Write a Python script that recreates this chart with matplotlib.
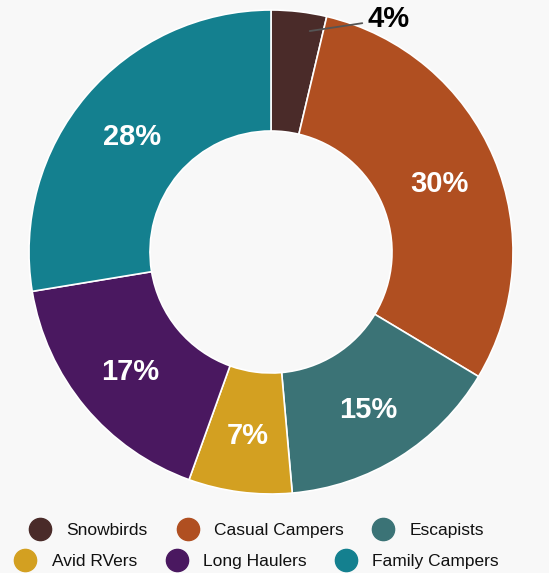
import numpy as np
import matplotlib

matplotlib.use("Agg")
import matplotlib.pyplot as plt
from matplotlib.lines import Line2D

plt.rcParams["font.family"] = ["Liberation Sans", "DejaVu Sans"]

segments = ["Snowbirds", "Casual Campers", "Escapists",
            "Avid RVers", "Long Haulers", "Family Campers"]
shares = [3.7, 29.9, 15.0, 6.9, 16.9, 27.6]
labels = ["4%", "30%", "15%", "7%", "17%", "28%"]
colors = ["#4a2b29", "#b04f21", "#3b7376", "#d3a021", "#4a1860", "#14808f"]

bg = "#f8f8f8"
fig = plt.figure(figsize=(5.49, 5.73), dpi=100, facecolor=bg)
W, H = 549, 573
cx, cy, r = 271, 252, 242
ax = fig.add_axes([(cx - r) / W, 1 - (cy + r) / H, 2 * r / W, 2 * r / H])
ax.set_facecolor(bg)

wedges, _ = ax.pie(shares, colors=colors, startangle=90, counterclock=False,
                   radius=1.0, wedgeprops=dict(width=0.5, edgecolor="white", linewidth=1.2))
ax.set_xlim(-1, 1)
ax.set_ylim(-1, 1)
ax.set_aspect("equal")
ax.axis("off")

for w, lab in zip(wedges, labels):
    mid = np.deg2rad((w.theta1 + w.theta2) / 2)
    if lab == "4%":
        # small slice: label outside with a leader line
        ax.annotate(lab, xy=(0.16, 0.913), xytext=(0.4, 0.962),
                    fontsize=21, fontweight="bold", color="black",
                    ha="left", va="center", annotation_clip=False,
                    arrowprops=dict(arrowstyle="-", color="#555555", lw=1.3,
                                    shrinkA=2, shrinkB=0))
    else:
        ax.text(0.755 * np.cos(mid), 0.755 * np.sin(mid) - 0.012, lab,
                fontsize=21, fontweight="bold", color="white",
                ha="center", va="center")


def handle(c):
    return Line2D([], [], marker="o", linestyle="none", markersize=16,
                  markerfacecolor=c, markeredgecolor=c)


rows = [(0, 3, 1 - 530 / H), (3, 6, 1 - 561 / H)]
for a, b, y in rows:
    leg = fig.legend([handle(c) for c in colors[a:b]], segments[a:b],
                     loc="center", bbox_to_anchor=(257 / W, y), ncol=3,
                     frameon=False, fontsize=12.5, handletextpad=0.9,
                     columnspacing=1.7, handlelength=1.2, borderaxespad=0)
    for t in leg.get_texts():
        t.set_color("#111111")

fig.savefig("out.png", dpi=100, facecolor=bg)
